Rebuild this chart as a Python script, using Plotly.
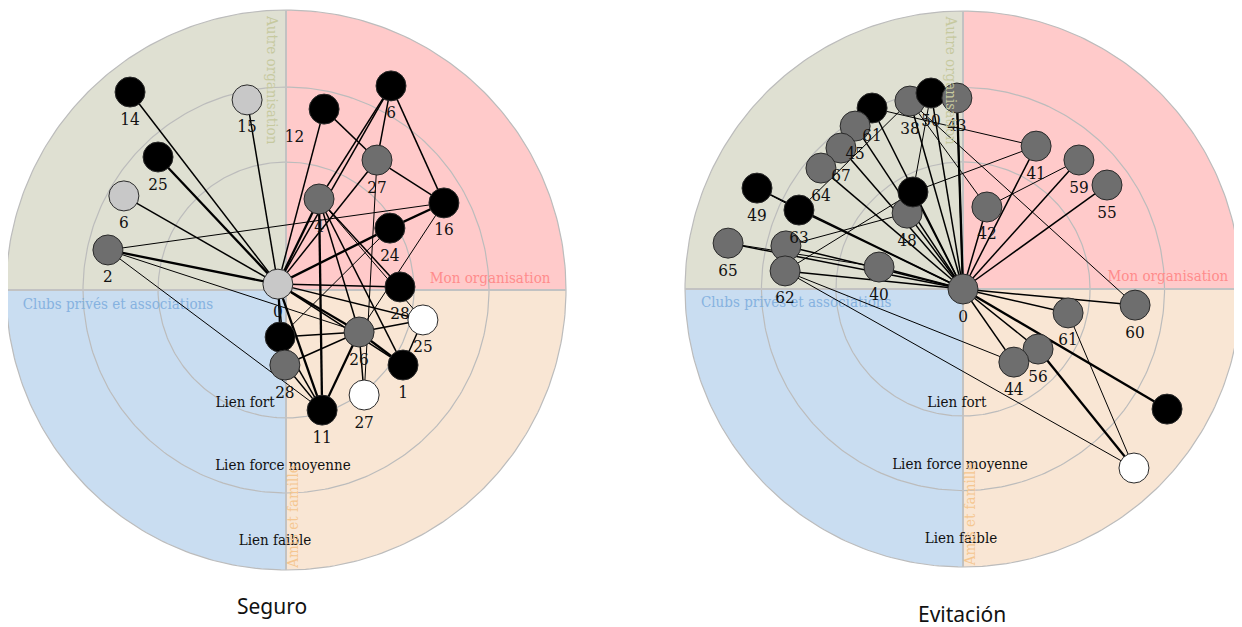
import numpy as np
import plotly.graph_objects as go

# ---------------- DATA ----------------
# Panel "Seguro": node labels, normalized positions (circle radius = 1), node type
seg_labels = ["0", "14", "15", "25", "6", "2", "12", "6", "27", "16", "4", "24",
              "28", "25", "26", "1", "27", "11", "", "28"]
seg_x = [-0.029, -0.557, -0.139, -0.457, -0.579, -0.636, 0.136, 0.375, 0.325, 0.564,
         0.118, 0.371, 0.407, 0.489, 0.261, 0.418, 0.279, 0.129, -0.021, -0.004]
seg_y = [0.021, 0.707, 0.679, 0.475, 0.336, 0.143, 0.646, 0.729, 0.464, 0.311,
         0.325, 0.221, 0.011, -0.107, -0.150, -0.268, -0.375, -0.429, -0.168, -0.268]
seg_type = ["light", "black", "light", "black", "light", "dark", "black", "black", "dark", "black",
            "dark", "black", "black", "white", "dark", "black", "white", "black", "black", "dark"]
seg_edges_heavy = [(0, 3), (0, 5), (0, 11), (11, 9), (0, 14), (0, 17), (10, 17), (14, 15),
                   (14, 17), (0, 10)]
seg_edges_normal = [(0, 1), (0, 2), (0, 4), (0, 6), (0, 7), (0, 8), (0, 12), (0, 13), (0, 15),
                    (0, 18), (0, 19), (6, 8), (8, 9), (7, 9), (7, 10), (7, 8), (10, 14), (10, 15),
                    (10, 12), (14, 13), (14, 18), (14, 19), (14, 16), (13, 15), (19, 17), (18, 17)]
seg_edges_thin = [(5, 9), (5, 17), (5, 14), (8, 16), (9, 14), (11, 18), (10, 13)]

# Panel "Evitación"
evi_labels = ["0", "38", "50", "43", "61", "45", "67", "64", "49", "63", "65", "", "62", "40",
              "48", "", "42", "41", "59", "55", "60", "61", "56", "44", "", ""]
evi_x = [0.0, -0.191, -0.115, -0.022, -0.327, -0.388, -0.439, -0.511, -0.741, -0.590, -0.845,
         -0.637, -0.640, -0.302, -0.201, -0.180, 0.086, 0.263, 0.417, 0.518, 0.619, 0.378,
         0.270, 0.183, 0.734, 0.615]
evi_y = [0.0, 0.676, 0.705, 0.687, 0.651, 0.586, 0.507, 0.435, 0.363, 0.284, 0.165, 0.155,
         0.065, 0.079, 0.273, 0.349, 0.295, 0.514, 0.464, 0.374, -0.058, -0.086, -0.216,
         -0.263, -0.432, -0.644]
evi_type = ["dark", "dark", "black", "dark", "black", "dark", "dark", "dark", "black", "black",
            "dark", "dark", "dark", "dark", "dark", "black", "dark", "dark", "dark", "dark",
            "dark", "dark", "dark", "dark", "black", "white"]
evi_edges_heavy = [(0, 24), (0, 3), (22, 25)]
evi_edges_normal = [(0, i) for i in range(1, 24)]
evi_edges_thin = [(8, 9), (9, 1), (11, 14), (12, 15), (12, 23), (12, 25), (4, 17), (15, 17),
                  (1, 16), (1, 20), (2, 15), (16, 18), (21, 25), (10, 13)]

sector_names = ["Autre organisation", "Mon organisation", "Clubs privés et associations", "Amis et famille"]
ring_names = ["Lien fort", "Lien force moyenne", "Lien faible"]
ring_radii = [0.457, 0.725, 1.0]
panel_titles = ["Seguro", "Evitación"]

# ---------------- STYLE / LAYOUT ----------------
FONT = "DejaVu Serif Condensed, Liberation Serif, serif"
node_colors = {"black": "#000000", "dark": "#6e6e6e", "light": "#c8c8c8", "white": "#ffffff"}
quad_colors = ["#dfe0d2", "#ffcaca", "#c9ddf1", "#f9e6d4"]  # TL, TR, BL, BR
quad_text_colors = ["#c6c99f", "#ff8c8c", "#86b2e0", "#f5c690"]

# the page body has an 8px margin; figure is sized to fit the window
OFF = 8
W, H = 1242 - OFF, 627 - OFF


def panel_axes(cx, cy, R):
    """Axis domains/ranges so that unit circle is centered at page pixel (cx, cy) with radius R."""
    fx, fy = cx - OFF, cy - OFF
    x0p, x1p = max(0, fx - R - 4), min(W, fx + R + 4)
    y0p, y1p = max(0, fy - R - 4), min(H, fy + R + 4)  # top, bottom (figure px)
    xdom = [x0p / W, x1p / W]
    ydom = [(H - y1p) / H, (H - y0p) / H]
    xr = [(x0p - fx) / R, (x1p - fx) / R]
    yr = [(fy - y1p) / R, (fy - y0p) / R]
    return xdom, xr, ydom, yr


fig = go.Figure()


def add_panel(fig, xa, ya, labels, xs, ys, types, heavy, normal, thin, label_pos):
    quads = [(90, 180), (0, 90), (180, 270), (270, 360)]
    for (a0, a1), col in zip(quads, quad_colors):
        t = np.radians(np.linspace(a0, a1, 60))
        px = np.concatenate([[0], np.cos(t), [0]])
        py = np.concatenate([[0], np.sin(t), [0]])
        fig.add_trace(go.Scatter(x=px, y=py, fill="toself", fillcolor=col, mode="lines",
                                 line=dict(width=0), hoverinfo="skip", showlegend=False,
                                 xaxis=xa, yaxis=ya))
    t = np.radians(np.linspace(0, 360, 361))
    for r in ring_radii:
        fig.add_trace(go.Scatter(x=r * np.cos(t), y=r * np.sin(t), mode="lines",
                                 line=dict(color="#bcbcbc", width=1.2), hoverinfo="skip",
                                 showlegend=False, xaxis=xa, yaxis=ya))
    fig.add_trace(go.Scatter(x=[-1, 1, None, 0, 0], y=[0, 0, None, -1, 1], mode="lines",
                             line=dict(color="#c2c2c2", width=2), hoverinfo="skip",
                             showlegend=False, xaxis=xa, yaxis=ya))
    fig.add_trace(go.Scatter(x=[label_pos["mon"][0], label_pos["clubs"][0]],
                             y=[label_pos["mon"][1], label_pos["clubs"][1]],
                             mode="text", text=[sector_names[1], sector_names[2]],
                             textfont=dict(family=FONT, size=15,
                                           color=[quad_text_colors[1], quad_text_colors[2]]),
                             hoverinfo="skip", showlegend=False, xaxis=xa, yaxis=ya))
    fig.add_trace(go.Scatter(x=label_pos["rings_x"], y=label_pos["rings_y"], mode="text",
                             text=ring_names, textfont=dict(family=FONT, size=15, color="#111"),
                             hoverinfo="skip", showlegend=False, xaxis=xa, yaxis=ya))
    for edges, w in [(thin, 1.0), (normal, 1.5), (heavy, 2.3)]:
        ex, ey = [], []
        for a, b in edges:
            ex += [xs[a], xs[b], None]
            ey += [ys[a], ys[b], None]
        fig.add_trace(go.Scatter(x=ex, y=ey, mode="lines", line=dict(color="#000", width=w),
                                 hoverinfo="skip", showlegend=False, xaxis=xa, yaxis=ya))
    fig.add_trace(go.Scatter(x=xs, y=ys, mode="markers+text", text=labels,
                             textposition=label_pos["textpos"],
                             textfont=dict(family=FONT, size=17, color="#111"),
                             marker=dict(size=30, color=[node_colors[k] for k in types],
                                         line=dict(color="#2a2a2a", width=1)),
                             cliponaxis=False, hoverinfo="skip", showlegend=False,
                             xaxis=xa, yaxis=ya))


seg_textpos = ["bottom center"] * len(seg_labels)
seg_textpos[6] = "bottom left"
evi_textpos = ["bottom center"] * len(evi_labels)

add_panel(fig, "x", "y", seg_labels, seg_x, seg_y, seg_type,
          seg_edges_heavy, seg_edges_normal, seg_edges_thin,
          dict(mon=(0.729, 0.039), clubs=(-0.60, -0.054),
               rings_x=[-0.146, -0.011, -0.039], rings_y=[-0.404, -0.629, -0.896],
               textpos=seg_textpos))
add_panel(fig, "x2", "y2", evi_labels, evi_x, evi_y, evi_type,
          evi_edges_heavy, evi_edges_normal, evi_edges_thin,
          dict(mon=(0.737, 0.043), clubs=(-0.60, -0.05),
               rings_x=[-0.022, -0.011, -0.007], rings_y=[-0.41, -0.633, -0.899],
               textpos=evi_textpos))

annotations = []
for xr, yr, ax_, ay_ in [("x", "y", -0.05, 0.75), ("x2", "y2", -0.043, 0.75)]:
    annotations.append(dict(x=ax_, y=ay_, xref=xr, yref=yr, text=sector_names[0], textangle=90,
                            showarrow=False, xanchor="center", yanchor="middle",
                            font=dict(family=FONT, size=15, color=quad_text_colors[0])))
for xr, yr, ax_, ay_ in [("x", "y", 0.025, -0.81), ("x2", "y2", 0.025, -0.81)]:
    annotations.append(dict(x=ax_, y=ay_, xref=xr, yref=yr, text=sector_names[3], textangle=-90,
                            showarrow=False, xanchor="center", yanchor="middle",
                            font=dict(family=FONT, size=15, color=quad_text_colors[3])))
annotations.append(dict(x=(272 - OFF) / W, y=(H - (606 - OFF)) / H, xref="paper", yref="paper",
                        text=panel_titles[0], showarrow=False, xanchor="center", yanchor="middle",
                        font=dict(family="Noto Sans, sans-serif", size=21, color="#111")))
annotations.append(dict(x=(962 - OFF) / W, y=(H - (614 - OFF)) / H, xref="paper", yref="paper",
                        text=panel_titles[1], showarrow=False, xanchor="center", yanchor="middle",
                        font=dict(family="Noto Sans, sans-serif", size=21, color="#111")))

lxd, lxr, lyd, lyr = panel_axes(286, 290, 280)
rxd, rxr, ryd, ryr = panel_axes(963, 289, 278)
ax_style = dict(visible=False, fixedrange=True)
fig.update_layout(
    width=W, height=H,
    margin=dict(l=0, r=0, t=0, b=0),
    paper_bgcolor="white", plot_bgcolor="rgba(0,0,0,0)",
    xaxis=dict(domain=lxd, range=lxr, **ax_style),
    yaxis=dict(domain=lyd, range=lyr, **ax_style),
    xaxis2=dict(domain=rxd, range=rxr, **ax_style),
    yaxis2=dict(domain=ryd, range=ryr, **ax_style),
    annotations=annotations,
    showlegend=False,
)

fig.write_html("out.html")
